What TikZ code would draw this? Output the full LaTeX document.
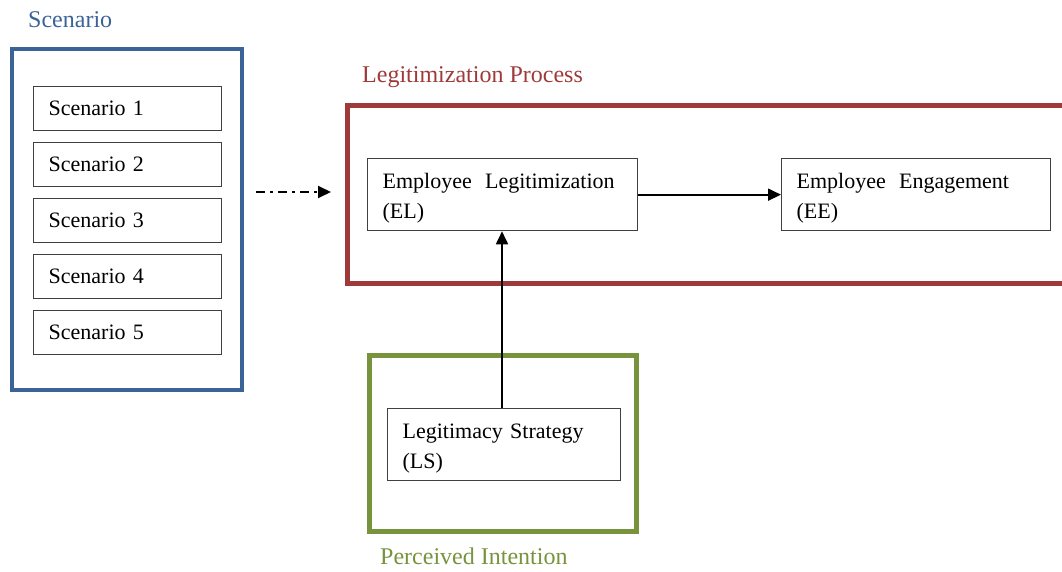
\documentclass[tikz,border=0pt]{standalone}
\usepackage{fontspec}
\setmainfont{Liberation Serif}
\usetikzlibrary{arrows.meta}
\definecolor{scenblue}{HTML}{3B6398}
\definecolor{procred}{HTML}{9E3A3A}
\definecolor{intgreen}{HTML}{77933C}
\begin{document}
\begin{tikzpicture}[x=1pt,y=-1pt,
  box/.style={draw=black!75,line width=1.3pt,fill=white,inner xsep=15pt,inner ysep=0pt,
    minimum height=44pt,align=left,anchor=north west,font=\fontsize{22}{30}\selectfont},
  frame/.style={draw=black!75,line width=1.3pt,fill=white,inner sep=0pt,
    minimum height=72pt,anchor=north west},
  label/.style={inner sep=0pt,align=left,yshift=-4pt,font=\fontsize{22}{30}\selectfont},
  heading/.style={anchor=base west,font=\fontsize{24}{28}\selectfont,inner sep=0pt},
  link/.style={line width=1.8pt,-{Triangle[length=13pt,width=12pt]}}]
\useasboundingbox (0,0) rectangle (1062,572);
% group frames
\draw[scenblue,line width=4pt] (12,49) rectangle (242,390);
\draw[procred,line width=5pt] (1062,106) -- (347,106) -- (347,283) -- (1062,283);
\draw[intgreen,line width=5pt] (369,355) rectangle (636,531);
% group headings
\node[heading,text=scenblue] (hscen) at (28,28) {Scenario};
\node[heading,text=procred] (hproc) at (362,83) {Legitimization Process};
\node[heading,text=intgreen] (hint) at (380,564) {Perceived Intention};
% scenario list
\node[box,minimum width=188pt,text width=158pt] (s1) at (33,86) {Scenario 1};
\node[box,minimum width=188pt,text width=158pt] (s2) at (33,142) {Scenario 2};
\node[box,minimum width=188pt,text width=158pt] (s3) at (33,198) {Scenario 3};
\node[box,minimum width=188pt,text width=158pt] (s4) at (33,254) {Scenario 4};
\node[box,minimum width=188pt,text width=158pt] (s5) at (33,310) {Scenario 5};
% model constructs
\node[frame,minimum width=270pt] (el) at (367,158) {};
\node[label,text width=240pt] (eltext) at (el.center)
  {Employee\hspace{0.6em}Legitimization\\(EL)};
\node[frame,minimum width=269pt] (ee) at (781,158) {};
\node[label,text width=239pt] (eetext) at (ee.center)
  {Employee\hspace{0.6em}Engagement\\(EE)};
\node[frame,minimum width=233pt] (ls) at (387,408) {};
\node[label,text width=203pt] (lstext) at (ls.center)
  {Legitimacy Strategy\\(LS)};
% connectors
\coordinate (dstart) at (256,192);
\coordinate (dend) at (331,192);
\draw[line width=1.8pt,dash pattern=on 9pt off 5pt on 3pt off 5pt,
  -{Triangle[length=13pt,width=12pt]}] (dstart) -- (dend);
\draw[link] (el.east) -- (ee.west);
\draw[link] (ls.north -| 502,0) -- (el.south -| 502,0);
\end{tikzpicture}
\end{document}
